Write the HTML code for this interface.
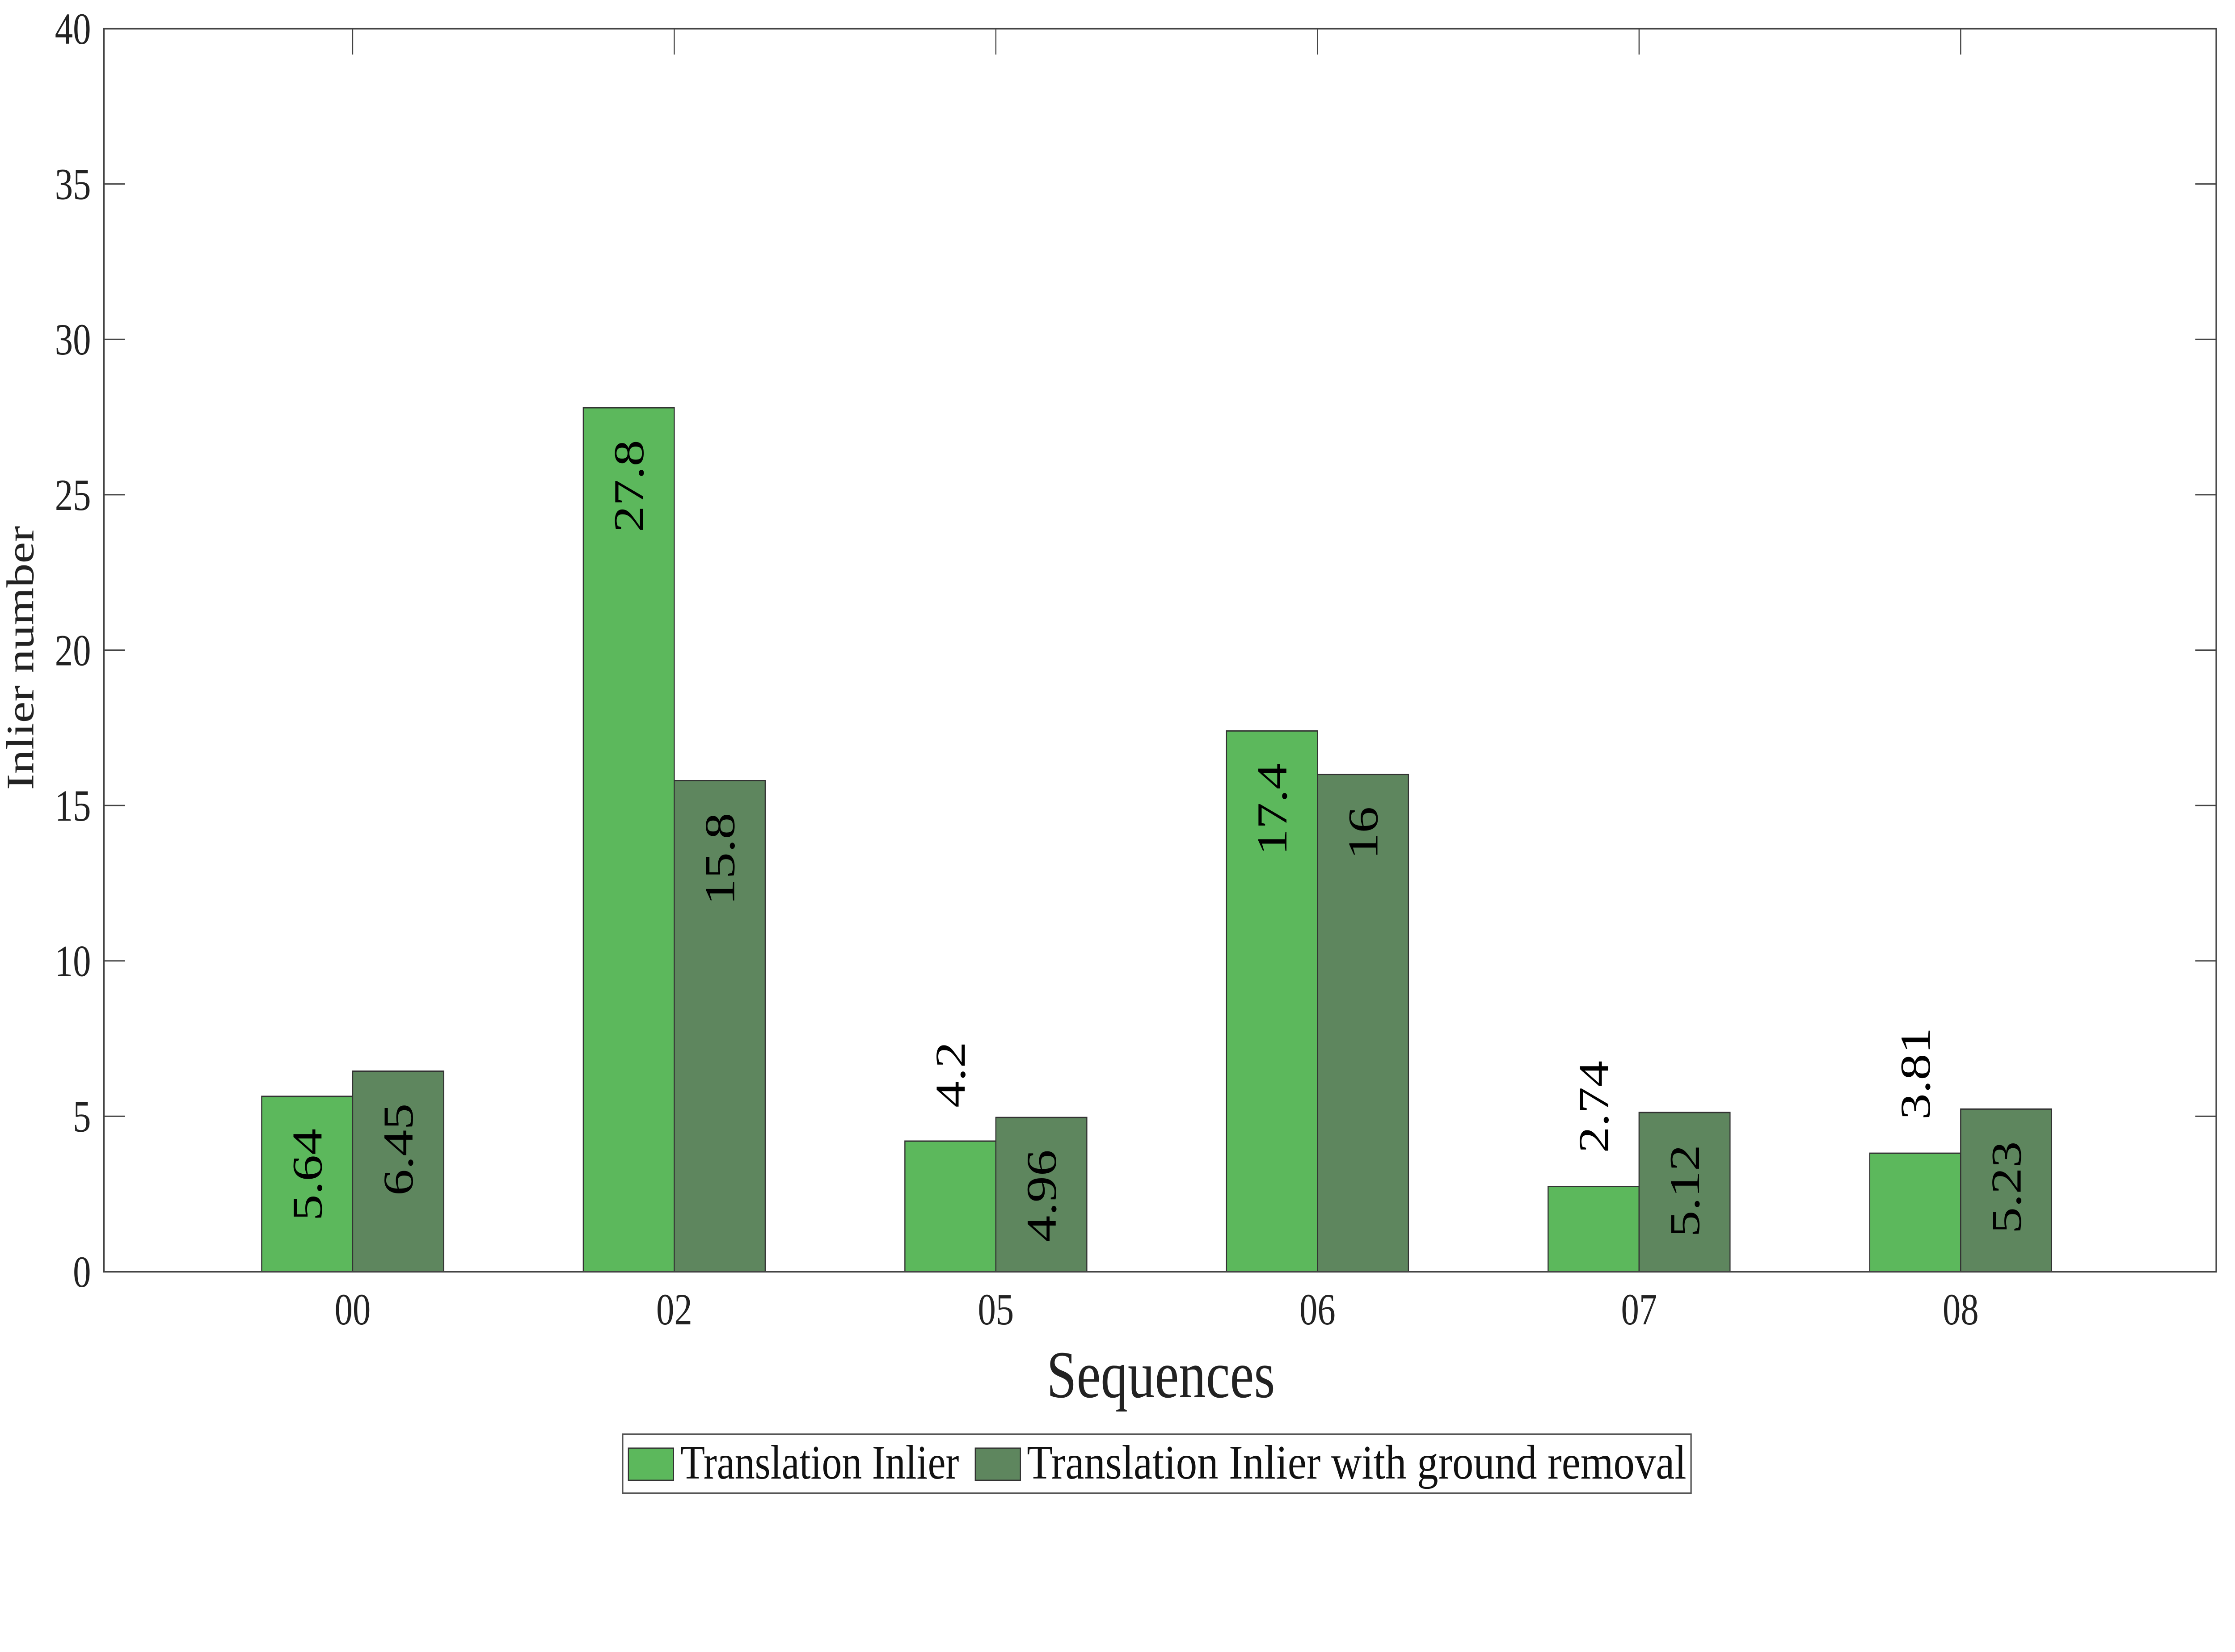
<!DOCTYPE html>
<html><head><meta charset="utf-8"><style>
html,body{margin:0;padding:0;background:#fff;width:100%;height:100%;overflow:hidden;}
svg{display:block;width:100vw;height:100vh;font-family:"Liberation Serif",serif;}
text{font-family:"Liberation Serif",serif;}
</style></head><body>
<svg id="chart" viewBox="0 0 6192 3696" preserveAspectRatio="none" xmlns="http://www.w3.org/2000/svg">
<rect x="0" y="0" width="6192" height="3696" fill="#fff"/>
<g id="bars"></g>
<g id="labels"></g>
<rect x="288" y="64" width="5852" height="2781" fill="none" stroke="#444" stroke-width="4"/>
<g id="axes"></g>
<text x="3216" y="3126" font-size="150" text-anchor="middle" fill="#222">Sequences</text>
<text transform="translate(92,1472) rotate(-90)" font-size="108" text-anchor="middle" fill="#222">Inlier number</text>
<g>
<rect x="1725" y="3209" width="2960" height="132" fill="#fff" stroke="#555" stroke-width="4"/>
<rect x="1741" y="3240" width="125" height="72" fill="#5cb85c" stroke="#333" stroke-width="3"/>
<text x="1885" y="3308" font-size="108" textLength="772" lengthAdjust="spacingAndGlyphs" fill="#111">Translation Inlier</text>
<rect x="2702" y="3240" width="125" height="72" fill="#5e865e" stroke="#333" stroke-width="3"/>
<text x="2845" y="3308" font-size="108" textLength="1827" lengthAdjust="spacingAndGlyphs" fill="#111">Translation Inlier with ground removal</text>
</g>
</svg>
<script>
const categories = ["00","02","05","06","07","08"];
const seriesA = [5.64, 27.8, 4.2, 17.4, 2.74, 3.81];
const seriesB = [6.45, 15.8, 4.96, 16, 5.12, 5.23];
const yTicks = [0,5,10,15,20,25,30,35,40];

const NS = "http://www.w3.org/2000/svg";
const L = 288, R = 6140, T = 64, B = 2845;
const yMax = 40;
function y(v){ return B - (v / yMax) * (B - T); }
function xc(i){ return 977 + i * 891; }
const bw = 252;
function el(tag, attrs, parent){
  const e = document.createElementNS(NS, tag);
  for (const k in attrs) e.setAttribute(k, attrs[k]);
  parent.appendChild(e);
  return e;
}
const axes = document.getElementById('axes');
const bars = document.getElementById('bars');
const labels = document.getElementById('labels');

yTicks.forEach(t => {
  const yy = y(t);
  if (t !== 0 && t !== 40) {
    const a = el('line', {x1:L, x2:L+58, y1:yy, y2:yy, stroke:'#444', 'stroke-width':3}, axes);
    
    
    const b = el('line', {x1:R-58, x2:R, y1:yy, y2:yy, stroke:'#444', 'stroke-width':3}, axes);
    
    
  }
  const tx = el('text', {x:252, y:yy+34, 'font-size':100, 'text-anchor':'end', fill:'#222', 'font-family':'Liberation Serif, serif'}, axes);
  tx.textContent = t;
  
  
});

categories.forEach((c, i) => {
  const cx = xc(i);
  const tk = el('line', {x1:cx, x2:cx, y1:T, y2:T+58, stroke:'#444', 'stroke-width':3}, axes);
  
  
  const tl = el('text', {x:cx, y:2963, 'font-size':100, 'text-anchor':'middle', fill:'#222', 'font-family':'Liberation Serif, serif'}, axes);
  tl.textContent = c;
  
  

  [[seriesA[i], cx - bw, '#5cb85c', 'bar-translation'], [seriesB[i], cx, '#5e865e', 'bar-ground-removal']].forEach(([v, x0, col, nm]) => {
    const r = el('rect', {x:x0, y:y(v), width:bw, height:B - y(v), fill:col, stroke:'#333', 'stroke-width':3}, bars);
    
    
    const lx = x0 + bw/2 + 40;
    let ly, anchor;
    if (v >= 4.5) { ly = y(v) + 72; anchor = 'end'; }
    else { ly = y(v) - 75; anchor = 'start'; }
    const t = el('text', {transform:'translate(' + lx + ',' + ly + ') rotate(-90)', 'font-size':118, 'text-anchor':anchor, fill:'#000', 'font-family':'Liberation Serif, serif'}, labels);
    t.textContent = String(v);
    
    
  });
});
</script>
</body></html>
